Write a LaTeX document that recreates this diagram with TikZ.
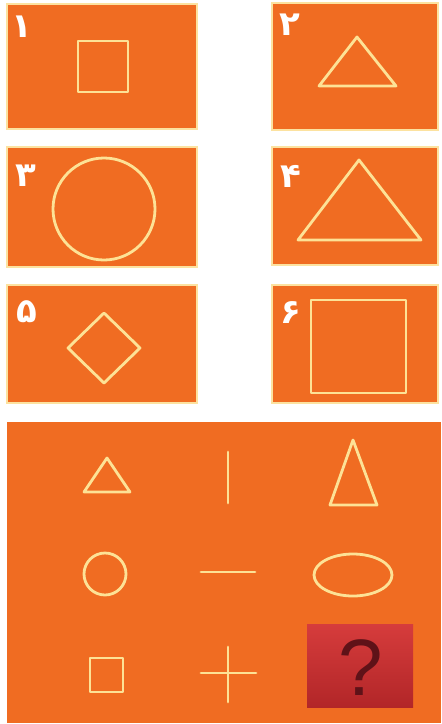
\documentclass[tikz,border=0pt]{standalone}
\usepackage{fontspec}
\newfontfamily\fa[Script=Arabic]{DejaVu Sans}
\newfontfamily\qfont{Liberation Sans}
\definecolor{bgor}{RGB}{240,108,34}
\definecolor{edge}{RGB}{252,226,160}
\definecolor{shp}{RGB}{253,226,150}
\definecolor{redtop}{RGB}{214,60,60}
\definecolor{redbot}{RGB}{178,38,40}
\definecolor{qcol}{RGB}{95,18,24}
\tikzset{
  panel/.style={fill=bgor,draw=edge,line width=1.6pt},
  figline/.style={draw=shp,line width=2.8pt,line join=round,line cap=round},
  num/.style={text=white,font=\fa\bfseries\fontsize{34}{34}\selectfont,inner sep=0pt}
}
\begin{document}
\begin{tikzpicture}[x=1pt,y=-1pt]
\useasboundingbox (0,0) rectangle (442,724);
\fill[white] (0,0) rectangle (442,724);
% panels
\draw[panel] (7,4) rectangle (197,129);
\draw[panel] (272,3) rectangle (438,130);
\draw[panel] (7,147) rectangle (197,267);
\draw[panel] (272,147) rectangle (438,265);
\draw[panel] (7,285) rectangle (197,403);
\draw[panel] (272,285) rectangle (438,403);
\fill[bgor] (7,422) rectangle (441,723);
% numerals
\node[num] (n1) at (22,27) {۱};
\node[num] (n2) at (290,25) {۲};
\node[num] (n3) at (26,176) {۳};
\node[num] (n4) at (291,176) {۴};
\node[num] (n5) at (27,312) {۵};
\node[num] (n6) at (291,313) {۶};
% panel shapes
\draw[figline] (78,41) rectangle (128,92);
\draw[figline] (357,37) -- (396,86) -- (319,86) -- cycle;
\draw[figline] (104,209) circle (51);
\draw[figline] (359,160) -- (421,240) -- (298,240) -- cycle;
\draw[figline] (104,313) -- (140,348) -- (104,383) -- (68,348) -- cycle;
\draw[figline] (311,300) rectangle (406,393);
% puzzle grid
\draw[figline] (107,458) -- (130,492) -- (84,492) -- cycle;
\draw[figline] (228,452) -- (228,503);
\draw[figline] (353,440) -- (377,505) -- (330,505) -- cycle;
\draw[figline] (105,574) ellipse (21 and 21);
\draw[figline] (201,572) -- (255,572);
\draw[figline] (353,575) ellipse (39 and 21);
\draw[figline] (90,658) rectangle (123,692);
\draw[figline] (201,673) -- (256,673);
\draw[figline] (228,647) -- (228,702);
\shade[top color=redtop,bottom color=redbot] (307,624) rectangle (413,707);
\node[text=qcol,font=\qfont\fontsize{80}{80}\selectfont,inner sep=0pt] (q) at (361,668) {?};
\end{tikzpicture}
\end{document}
